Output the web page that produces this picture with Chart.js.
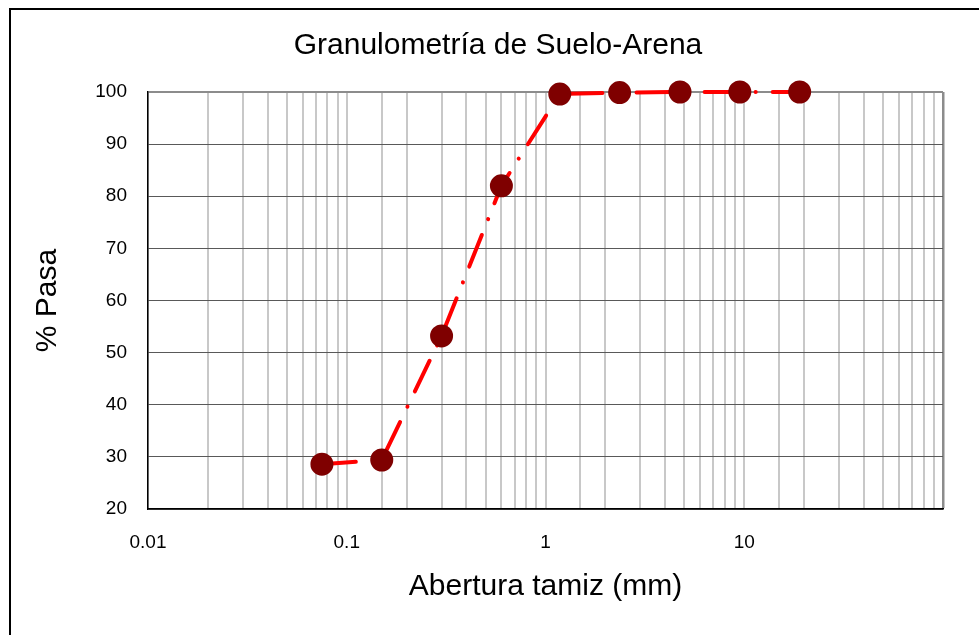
<!DOCTYPE html>
<html>
<head>
<meta charset="utf-8">
<script src="https://cdn.jsdelivr.net/npm/chart.js@4"></script>
<style>
  body { margin: 0; background: #fff; overflow: hidden; }
  #frame { position: absolute; left: 9px; top: 8px; width: 1100px; height: 800px;
           border-left: 2px solid #000; border-top: 2px solid #000; }
  #myChart { position: absolute; left: 0; top: 0; }
</style>
</head>
<body>
<div id="frame"></div>
<canvas id="myChart" width="979" height="635"></canvas>
<script>
// abertura del tamiz (mm) y % que pasa
const aberturas = [0.075, 0.15, 0.3, 0.6, 1.18, 2.36, 4.75, 9.5, 19];
const pasa = [28.6, 29.4, 53.2, 82.0, 99.6, 99.9, 100, 100, 100];
const xLabels = [0.01, 0.1, 1, 10];

const puntos = aberturas.map((a, i) => ({ x: a, y: pasa[i] }));

const ctx = document.getElementById("myChart").getContext("2d");
const chart = new Chart(ctx, {
  type: "line",
  data: {
    datasets: [
      {
        data: puntos,
        borderColor: "#ff0000",
        borderWidth: 4,
        borderDash: [34, 17, 0.1, 17],
        borderCapStyle: "round",
        pointRadius: 9.5,
        pointBackgroundColor: "#7f0000",
        pointBorderColor: "#7f0000",
        pointHoverRadius: 9.5,
        tension: 0,
        clip: false,
      },
    ],
  },
  options: {
    responsive: false,
    animation: false,
    layout: { padding: { left: 53, right: 36, top: 0, bottom: 0 } },
    plugins: {
      legend: { display: false },
      tooltip: { enabled: false },
      title: {
        display: true,
        text: "Granulometría de Suelo-Arena",
        color: "#000",
        font: { family: "Liberation Sans", size: 30, weight: "normal" },
        padding: { top: 28, bottom: 28 },
      },
    },
    scales: {
      x: {
        type: "logarithmic",
        min: 0.01,
        max: 100,
        afterFit: (scale) => { scale.height = 126; },
        grid: {
          drawTicks: false,
          color: (c) => (c.tick && c.tick.value === 100 ? "#8c8c8c" : "#c8c8c8"),
          lineWidth: (c) => (c.tick && c.tick.value === 100 ? 2.5 : 2),
        },
        border: { color: "#000", width: 1.5 },
        ticks: {
          autoSkip: false,
          maxRotation: 0,
          padding: 22,
          color: "#000",
          font: { family: "Liberation Sans", size: 19 },
          callback: (v) => (xLabels.includes(v) ? String(v) : ""),
        },
        title: {
          display: true,
          text: "Abertura tamiz (mm)",
          color: "#000",
          font: { family: "Liberation Sans", size: 30 },
          padding: { top: 0, bottom: 30 },
        },
      },
      y: {
        min: 20,
        max: 100,
        afterFit: (scale) => { scale.width = 95; },
        grid: {
          drawTicks: false,
          color: (c) => (c.tick && c.tick.value === 100 ? "#8c8c8c" : "#595959"),
          lineWidth: (c) => (c.tick && c.tick.value === 100 ? 2 : 1),
        },
        border: { color: "#000", width: 1.5 },
        ticks: {
          stepSize: 10,
          padding: 21,
          color: "#000",
          font: { family: "Liberation Sans", size: 19 },
        },
        title: {
          display: true,
          text: "% Pasa",
          color: "#000",
          font: { family: "Liberation Sans", size: 30 },
          padding: { top: -23, bottom: 0 },
        },
      },
    },
  },
});
</script>
</body>
</html>
